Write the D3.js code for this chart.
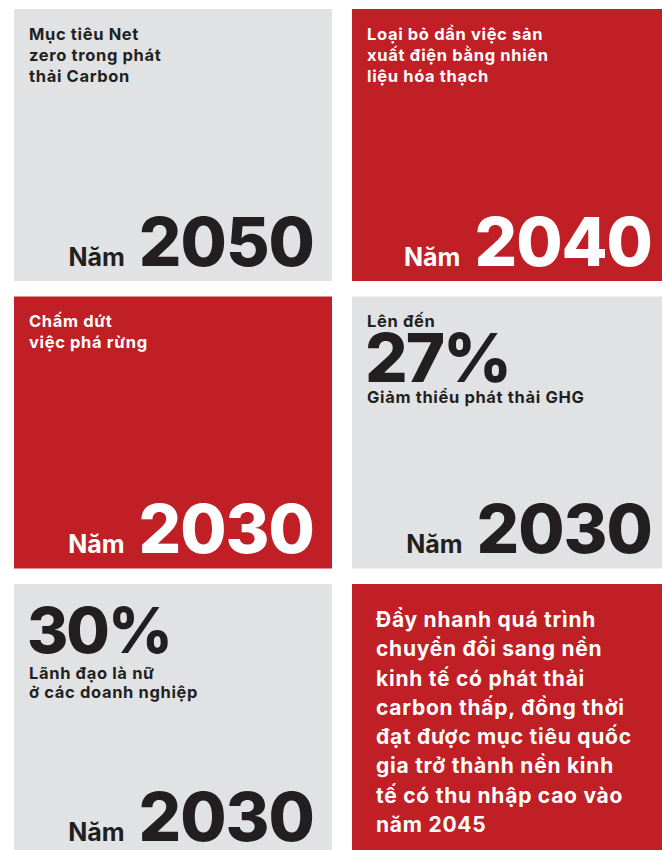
<!DOCTYPE html>
<html>
<head>
<meta charset="utf-8">
<script src="https://cdn.jsdelivr.net/npm/d3@7"></script>
<style>
  body { margin: 0; background: #fff; }
  svg { display: block; }
  text { font-family: Inter, "Noto Sans", sans-serif; }
</style>
</head>
<body>
<svg id="board"></svg>
<script>
// tiles read left to right, top to bottom
const headLines = [
  ["Mục tiêu Net", "zero trong phát", "thải Carbon"],
  ["Loại bỏ dần việc sản", "xuất điện bằng nhiên", "liệu hóa thạch"],
  ["Chấm dứt", "việc phá rừng"],
  ["Lên đến"],
  [],
  []
];
const shares = [null, null, null, "27%", "30%", null];
const shareNotes = [[], [], [], ["Giảm thiểu phát thải GHG"], ["Lãnh đạo là nữ", "ở các doanh nghiệp"], []];
const yearWord = "Năm";
const targetYears = ["2050", "2040", "2030", "2030", "2030", null];
const storyLines = [[], [], [], [], [], [
  "Đẩy nhanh quá trình",
  "chuyển đổi sang nền",
  "kinh tế có phát thải",
  "carbon thấp, đồng thời",
  "đạt được mục tiêu quốc",
  "gia trở thành nền kinh",
  "tế có thu nhập cao vào",
  "năm 2045"
]];

const width = 662, height = 850;
const red = "#c01f26", grey = "#e1e2e4", ink = "#231f20";

const svg = d3.select("#board").attr("width", width).attr("height", height);

const col = d3.scaleBand().domain([0, 1]).range([14, 670]).paddingInner(0.0592);
const row = d3.scaleBand().domain([0, 1, 2]).range([9, 856]).paddingInner(0.0539);

const tiles = targetYears.map((y, i) => ({
  i: i, c: i % 2, r: Math.floor(i / 2),
  head: headLines[i], share: shares[i], notes: shareNotes[i],
  year: y, story: storyLines[i]
}));

const g = svg.selectAll("g.tile").data(tiles).join("g")
  .attr("class", "tile")
  .attr("transform", d => `translate(${col(d.c)},${row(d.r)})`);

g.append("rect")
  .attr("width", col.bandwidth())
  .attr("height", row.bandwidth())
  .attr("fill", d => (d.r + d.c) % 2 ? red : grey);

const fg = d => (d.r + d.c) % 2 ? "#fff" : ink;
const padL = 15;

function small(sel, x, y, color, s) {
  return sel.append("text").attr("x", x).attr("y", y)
    .attr("fill", color).attr("font-size", 16.5).attr("font-weight", 700)
    .attr("letter-spacing", 0.65)
    .text(s);
}

g.each(function(d) {
  const t = d3.select(this);
  const color = fg(d);
  d.head.forEach((line, k) => small(t, padL, 31 + k * 21, color, line));
  if (d.share) {
    // with a heading above, the figure sits lower and a bit larger
    const base = d.head.length ? 86 : 69;
    t.append("text").attr("x", padL - 2).attr("y", base)
      .attr("fill", color).attr("font-size", d.head.length ? 67 : 63).attr("font-weight", 800)
      .attr("letter-spacing", -2)
      .text(d.share);
    d.notes.forEach((line, k) =>
      small(t, padL, base + (d.head.length ? 21 : 26) + k * 19, color, line));
  }
  d.story.forEach((line, k) => {
    t.append("text").attr("x", 24).attr("y", 43 + k * 29.3)
      .attr("fill", color).attr("font-size", 21).attr("font-weight", 700)
      .attr("letter-spacing", 0.75)
      .text(line);
  });
  if (d.year) {
    const right = col.bandwidth() - 18;
    const yr = t.append("text").attr("x", right).attr("y", 257)
      .attr("text-anchor", "end")
      .attr("fill", color).attr("font-size", 67).attr("font-weight", 800)
      .attr("letter-spacing", -1)
      .text(d.year);
    const w = yr.node().getComputedTextLength();
    t.append("text").attr("x", right - w - 14).attr("y", 257)
      .attr("text-anchor", "end")
      .attr("fill", color).attr("font-size", 25).attr("font-weight", 700)
      .text(yearWord);
  }
});
</script>
</body>
</html>
